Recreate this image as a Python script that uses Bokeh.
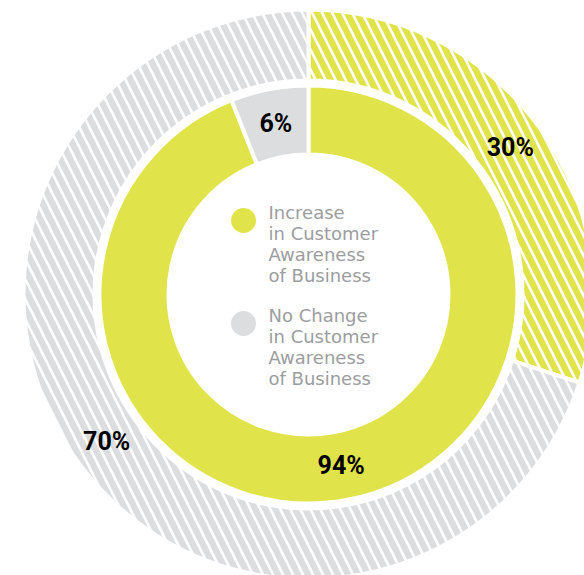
import numpy as np
from bokeh.plotting import figure
from bokeh.models import Range1d
from bokeh.core.properties import value
from bokeh.embed import file_html
from bokeh.resources import INLINE

# Data
inner_labels = ["Increase", "No Change"]
inner_values = [94, 6]
outer_labels = ["Increase", "No Change"]
outer_values = [30, 70]
legend_lines = [
    ["Increase", "in Customer", "Awareness", "of Business"],
    ["No Change", "in Customer", "Awareness", "of Business"],
]

YELLOW = "#E0E34A"
GRAY = "#DCDDDF"
TEXT_GRAY = "#9C9D9F"

p = figure(width=584, height=575, x_range=Range1d(-308, 276), y_range=Range1d(-281, 294),
           min_border=0, toolbar_location=None, output_backend="svg")
p.axis.visible = False
p.grid.visible = False
p.outline_line_color = None
p.background_fill_color = "white"
p.border_fill_color = "white"

top = np.pi / 2

# Inner ring: 94% yellow clockwise from top, 6% gray anticlock from top
fi = np.array(inner_values, float) / sum(inner_values) * 2 * np.pi
gray_in = (top, top + fi[1])
yel_in = (top + fi[1], top + 2 * np.pi)
r_in_inner, r_in_outer = 140, 209

p.annular_wedge(x=[0, 0], y=[0, 0], inner_radius=r_in_inner, outer_radius=r_in_outer,
                start_angle=[yel_in[0], gray_in[0]], end_angle=[yel_in[1], gray_in[1]],
                fill_color=[YELLOW, GRAY], line_color="white", line_width=4)

# Outer ring: 30% yellow clockwise from top, 70% gray
fo = np.array(outer_values, float) / sum(outer_values) * 2 * np.pi
yel_out = (top - fo[0], top)
gray_out = (top, top + fo[1])
r_out_inner, r_out_outer = 214, 285

p.annular_wedge(x=[0, 0], y=[0, 0], inner_radius=r_out_inner, outer_radius=r_out_outer,
                start_angle=[yel_out[0], gray_out[0]], end_angle=[yel_out[1], gray_out[1]],
                fill_color=[YELLOW, GRAY], line_color="white", line_width=4,
                hatch_pattern="\\", hatch_color="white", hatch_weight=2.6, hatch_scale=20)

# Percentage labels
def mid(a):
    return (a[0] + a[1]) / 2

lab_x, lab_y, lab_t = [], [], []
for ang, r, v in [(mid(yel_in), (r_in_inner + r_in_outer) / 2, inner_values[0]),
                  (mid(gray_in), (r_in_inner + r_in_outer) / 2, inner_values[1]),
                  (mid(yel_out), (r_out_inner + r_out_outer) / 2, outer_values[0]),
                  (mid(gray_out), (r_out_inner + r_out_outer) / 2, outer_values[1])]:
    lab_x.append(r * np.cos(ang))
    lab_y.append(r * np.sin(ang))
    lab_t.append(f"{v}%")

p.text(x=lab_x, y=lab_y, text=lab_t, text_align="center", text_baseline="middle",
       text_font=value("Roboto"), text_font_style="bold", text_font_size="25px",
       text_color="black")

# Legend in center
p.scatter(x=[-65, -65], y=[74, -29], size=25, fill_color=[YELLOW, GRAY], line_color=None)
tx, ty, tt = [], [], []
for gi, lines in enumerate(legend_lines):
    y0 = 82 if gi == 0 else -21
    for li, line in enumerate(lines):
        tx.append(-40)
        ty.append(y0 - li * 21)
        tt.append(line)
p.text(x=tx, y=ty, text=tt, text_align="left", text_baseline="middle",
       text_font=value("DejaVu Sans"), text_font_size="18px", text_color=TEXT_GRAY)

open("out.html", "w").write(file_html(p, INLINE))
